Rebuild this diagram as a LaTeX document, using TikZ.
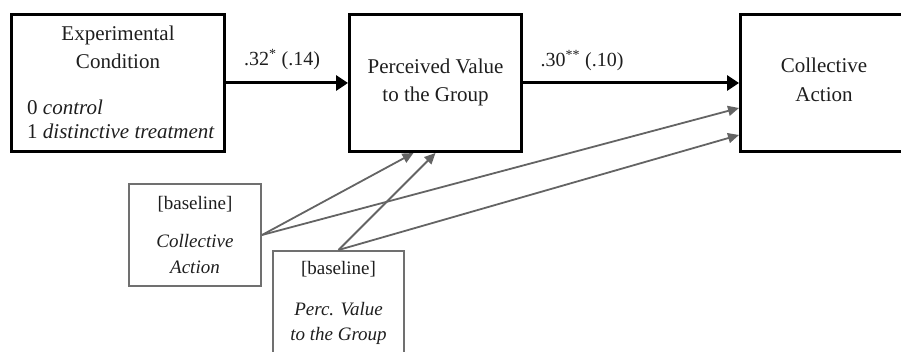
\documentclass[tikz,border=0pt]{standalone}
\usepackage{fontspec}
\setmainfont{Liberation Serif}
\usetikzlibrary{arrows.meta}
\definecolor{gline}{RGB}{100,100,100}
\definecolor{gbox}{RGB}{112,112,112}
\definecolor{tx}{RGB}{30,30,30}
\begin{document}
\begin{tikzpicture}[x=1pt,y=-1pt,
 mainbox/.style={draw=black, line width=3pt, minimum height=137pt, inner sep=0pt},
 basebox/.style={draw=gbox, line width=2pt, inner sep=0pt},
 big/.style={font=\fontsize{21}{28}\selectfont, text=tx, inner sep=0pt, anchor=base},
 small/.style={font=\fontsize{19}{24}\selectfont, text=tx, inner sep=0pt, anchor=base},
 lbl/.style={font=\fontsize{20}{24}\selectfont, text=tx, inner sep=0pt, anchor=base},
 bigarrow/.style={draw=black, line width=3pt, -{Triangle[length=12pt,width=15pt]}},
 grayarrow/.style={draw=gline, line width=1.8pt, -{Triangle[length=11pt,width=10pt]}},
 grayline/.style={draw=gline, line width=1.8pt}
]
\useasboundingbox (0,0) rectangle (901,352);
\clip (0,0) rectangle (901,352);

% main boxes
\node[mainbox, minimum width=213pt] (b1) at (118,83) {};
\node[mainbox, minimum width=172pt] (b2) at (435.5,83) {};
\node[mainbox, minimum width=167pt] (b3) at (824,83) {};

% baseline boxes
\node[basebox, minimum width=132pt, minimum height=102pt] (bl1) at (195,235) {};
\node[basebox, minimum width=131pt, minimum height=114pt] (bl2) at (338.5,308) {};

% texts of main boxes
\node[big] (t1a) at (118,41) {Experimental};
\node[big] (t1b) at (118,69) {Condition};
\node[big, anchor=base west] (t1c) at (27,115) {0 \textit{control}};
\node[big, anchor=base west] (t1d) at (27,139) {1 \textit{distinctive treatment}};
\node[big] (t2a) at (435.5,74) {Perceived Value};
\node[big] (t2b) at (435.5,102) {to the Group};
\node[big] (t3a) at (824,73) {Collective};
\node[big] (t3b) at (824,102) {Action};

% texts of baseline boxes
\node[small] (s1a) at (195,210) {[baseline]};
\node[small] (s1b) at (195,248) {\textit{Collective}};
\node[small] (s1c) at (195,273) {\textit{Action}};
\node[small] (s2a) at (338.5,275) {[baseline]};
\node[small] (s2b) at (338.5,315) {\textit{Perc. Value}};
\node[small] (s2c) at (338.5,340) {\textit{to the Group}};

% path labels
\node[lbl] (l1) at (282,66) {.32\textsuperscript{*} (.14)};
\node[lbl] (l2) at (582,67) {.30\textsuperscript{**} (.10)};

% main arrows
\draw[bigarrow] (b1) -- (b2);
\draw[bigarrow] (b2) -- (b3);

% target points
\coordinate (p1) at ([xshift=-22pt]b2.south);
\coordinate (p2) at (b2.south);
\coordinate (q1) at ([yshift=-25pt]b3.west);
\coordinate (q2) at ([yshift=-52pt]b3.west);

% gray arrows
\draw[grayarrow] (bl1.east) -- (p1);
\draw[grayarrow] (bl1.east) -- (q1);
\draw[grayarrow] (bl2.north) -- (p2);
\draw[grayarrow] (bl2.north) -- (q2);
\end{tikzpicture}
\end{document}
